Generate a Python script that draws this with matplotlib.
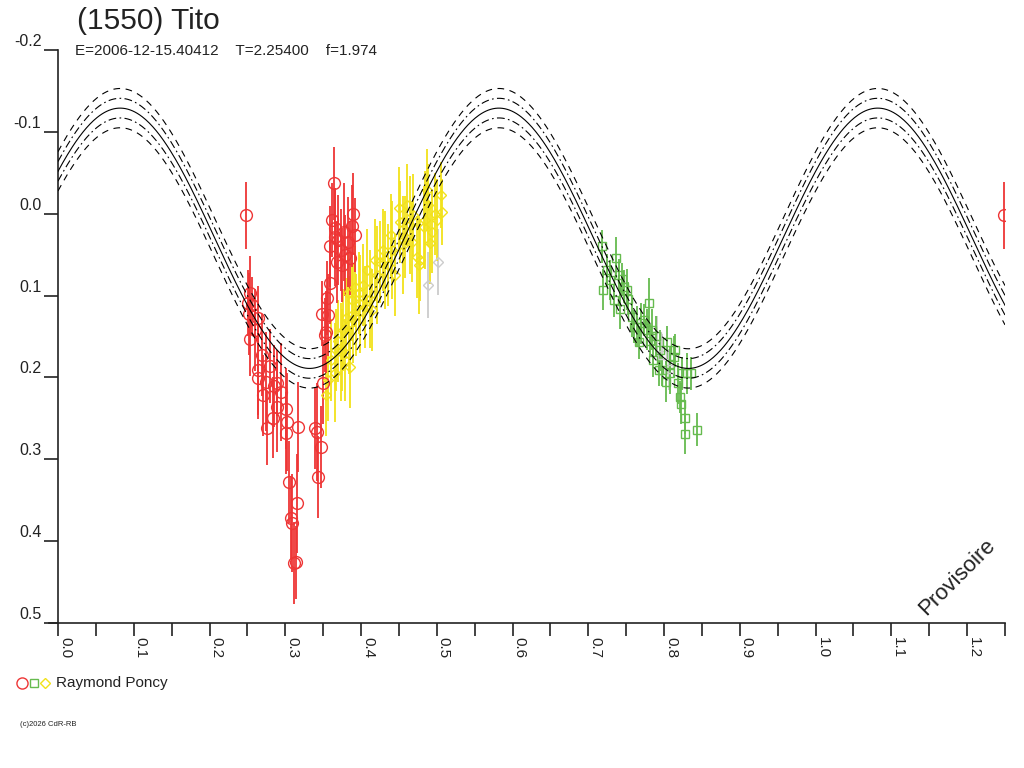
import numpy as np
import matplotlib
matplotlib.use("Agg")
import matplotlib.pyplot as plt
from matplotlib.transforms import ScaledTranslation

plt.rcParams['font.family'] = ['Liberation Sans', 'DejaVu Sans']

# ---- data (phase, relative magnitude, error) ----
red_phase = [0.2485, 0.254, 0.251, 0.252, 0.256, 0.254, 0.260, 0.264, 0.269, 0.264,
             0.264, 0.271, 0.275, 0.280, 0.285, 0.289, 0.289, 0.284, 0.276, 0.295,
             0.301, 0.302, 0.301, 0.317, 0.305, 0.315, 0.308, 0.309, 0.314, 0.312,
             0.339, 0.342, 0.347, 0.343, 0.350, 0.353, 0.354, 0.348, 0.359, 0.355,
             0.356, 0.359, 0.362, 0.364, 0.365, 0.366, 0.368, 0.370, 0.373, 0.375,
             0.378, 0.379, 0.383, 0.386, 0.388, 0.390, 0.392]
red_mag = [0.002, 0.097, 0.109, 0.122, 0.112, 0.153, 0.142, 0.128, 0.173, 0.191,
           0.201, 0.222, 0.205, 0.186, 0.210, 0.207, 0.236, 0.249, 0.262, 0.218,
           0.238, 0.254, 0.268, 0.261, 0.328, 0.354, 0.372, 0.378, 0.426, 0.427,
           0.262, 0.267, 0.285, 0.322, 0.207, 0.148, 0.144, 0.122, 0.085, 0.103,
           0.124, 0.040, 0.008, -0.037, 0.028, 0.018, 0.059, 0.032, 0.044, 0.063,
           0.022, 0.051, 0.035, 0.054, 0.015, 0.000, 0.026]
red_err = [0.041, 0.045, 0.040, 0.050, 0.035, 0.045, 0.050, 0.040, 0.050, 0.060,
           0.045, 0.050, 0.060, 0.045, 0.050, 0.040, 0.055, 0.050, 0.045, 0.060,
           0.050, 0.060, 0.050, 0.055, 0.050, 0.060, 0.050, 0.060, 0.045, 0.050,
           0.050, 0.060, 0.050, 0.050, 0.050, 0.045, 0.050, 0.040, 0.050, 0.045,
           0.050, 0.050, 0.045, 0.045, 0.060, 0.050, 0.050, 0.055, 0.050, 0.045,
           0.060, 0.050, 0.055, 0.045, 0.050, 0.050, 0.045]

green_phase = [0.718, 0.720, 0.725, 0.729, 0.734, 0.737, 0.740, 0.742, 0.745, 0.747,
               0.751, 0.753, 0.758, 0.760, 0.764, 0.767, 0.769, 0.773, 0.778, 0.780,
               0.782, 0.784, 0.786, 0.789, 0.793, 0.795, 0.797, 0.802, 0.804, 0.808,
               0.808, 0.813, 0.815, 0.819, 0.821, 0.822, 0.824, 0.827, 0.828, 0.830,
               0.835, 0.844]
green_mag = [0.040, 0.093, 0.069, 0.081, 0.106, 0.054, 0.075, 0.116, 0.080, 0.089,
             0.093, 0.104, 0.126, 0.138, 0.138, 0.157, 0.134, 0.130, 0.142, 0.109,
             0.155, 0.142, 0.179, 0.150, 0.191, 0.167, 0.191, 0.205, 0.157, 0.195,
             0.183, 0.175, 0.167, 0.207, 0.224, 0.232, 0.195, 0.269, 0.249, 0.195,
             0.195, 0.264]
green_err = [0.020, 0.025, 0.020, 0.025, 0.020, 0.025, 0.020, 0.025, 0.020, 0.020,
             0.025, 0.020, 0.025, 0.020, 0.025, 0.020, 0.025, 0.020, 0.025, 0.030,
             0.020, 0.025, 0.020, 0.025, 0.020, 0.025, 0.020, 0.025, 0.020, 0.025,
             0.020, 0.025, 0.020, 0.025, 0.020, 0.025, 0.020, 0.025, 0.020, 0.025,
             0.020, 0.020]

yellow_phase = [0.354, 0.357, 0.361, 0.365, 0.367, 0.370, 0.373, 0.375, 0.376, 0.379,
                0.380, 0.383, 0.384, 0.386, 0.388, 0.390, 0.392, 0.394, 0.397, 0.399,
                0.402, 0.405, 0.408, 0.412, 0.414, 0.419, 0.421, 0.425, 0.429, 0.432,
                0.436, 0.439, 0.441, 0.445, 0.450, 0.452, 0.456, 0.458, 0.461, 0.465,
                0.467, 0.469, 0.474, 0.476, 0.478, 0.483, 0.485, 0.487, 0.489, 0.491,
                0.494, 0.498, 0.500, 0.505, 0.507]
yellow_mag = [0.222, 0.203, 0.179, 0.194, 0.167, 0.155, 0.169, 0.167, 0.142, 0.179,
              0.128, 0.097, 0.136, 0.187, 0.106, 0.122, 0.089, 0.124, 0.097, 0.110,
              0.087, 0.114, 0.069, 0.104, 0.118, 0.057, 0.075, 0.059, 0.044, 0.057,
              0.063, 0.026, 0.044, 0.075, -0.007, 0.010, 0.038, 0.028, -0.011, 0.014,
              0.034, 0.002, 0.053, 0.063, 0.057, 0.016, 0.008, -0.029, -0.011, 0.036,
              0.022, 0.000, 0.008, -0.023, -0.002]
yellow_err = [0.050, 0.050, 0.050, 0.060, 0.050, 0.050, 0.060, 0.050, 0.050, 0.050,
              0.050, 0.050, 0.060, 0.050, 0.050, 0.060, 0.050, 0.050, 0.050, 0.060,
              0.050, 0.050, 0.050, 0.060, 0.050, 0.050, 0.060, 0.050, 0.050, 0.060,
              0.050, 0.050, 0.060, 0.050, 0.050, 0.050, 0.060, 0.050, 0.050, 0.060,
              0.050, 0.050, 0.050, 0.060, 0.050, 0.050, 0.060, 0.050, 0.050, 0.050,
              0.050, 0.050, 0.050, 0.040, 0.040]

grey_d_phase = [0.489, 0.501]
grey_d_mag = [0.087, 0.059]
grey_d_err = [0.040, 0.040]
grey_s_phase = [0.790, 0.797, 0.806]
grey_s_mag = [0.150, 0.172, 0.190]
grey_s_err = [0.025, 0.025, 0.025]

# fitted light curve (mean, amplitude, phase of maximum) and band offsets
fit_mean = 0.03
fit_amp = 0.159
fit_x0 = 0.082
band_offsets = [0.012, 0.024]

x_ticks = [round(0.1 * i, 1) for i in range(13)]
y_ticks = [-0.2, -0.1, 0.0, 0.1, 0.2, 0.3, 0.4, 0.5]

title = "(1550) Tito"
subtitle = "E=2006-12-15.40412    T=2.25400    f=1.974"
observer = "Raymond Poncy"

RED = '#ee3535'
GREEN = '#66bb4f'
YELLOW = '#f2e21a'
GREY = '#cccccc'
INK = '#222222'

fig = plt.figure(figsize=(10.24, 7.68), dpi=100)
ax = fig.add_axes([58 / 1024, 1 - 623 / 768, 947 / 1024, 573 / 768])
ax.set_xlim(0, 1.25)
ax.set_ylim(0.5, -0.2)


def plot_set(ph, mag, err, color, marker, ms):
    ph = np.array(ph)
    mag = np.array(mag)
    err = np.array(err)
    # points repeated one period later while still inside the window
    extra = ph + 1 <= 1.25
    ph = np.concatenate([ph, ph[extra] + 1])
    mag = np.concatenate([mag, mag[extra]])
    err = np.concatenate([err, err[extra]])
    ax.errorbar(ph, mag, yerr=err, fmt=marker, ms=ms, mfc='none', mec=color,
                mew=1.0, ecolor=color, elinewidth=1.3, capsize=0, zorder=3)


plot_set(grey_d_phase, grey_d_mag, grey_d_err, GREY, 'D', 5.5)
plot_set(grey_s_phase, grey_s_mag, grey_s_err, GREY, 's', 6)
plot_set(yellow_phase, yellow_mag, yellow_err, YELLOW, 'D', 5.5)
plot_set(green_phase, green_mag, green_err, GREEN, 's', 6)
plot_set(red_phase, red_mag, red_err, RED, 'o', 8.5)

xs = np.linspace(0, 1.25, 800)
model = fit_mean - fit_amp * np.cos(4 * np.pi * (xs - fit_x0))
ax.plot(xs, model, color='black', lw=0.8, zorder=4)
for sgn in (-1, 1):
    ax.plot(xs, model + sgn * band_offsets[0], color='black', lw=0.8,
            dashes=(7, 3, 1.5, 3), zorder=4)
    ax.plot(xs, model + sgn * band_offsets[1], color='black', lw=0.8,
            dashes=(6, 5), zorder=4)

# axes styling
for s in ('top', 'right'):
    ax.spines[s].set_visible(False)
ax.spines['left'].set_color(INK)
ax.spines['bottom'].set_color(INK)
ax.spines['bottom'].set_bounds(-0.0125, 1.25)
ax.spines['left'].set_linewidth(1.2)
ax.spines['bottom'].set_linewidth(1.2)

ax.set_xticks(x_ticks)
ax.set_xticks(np.arange(0.05, 1.26, 0.1), minor=True)
ax.set_xticklabels([f"{v:.1f}" for v in x_ticks], rotation=-90, ha='left',
                   va='top', fontsize=11, color=INK)
ax.tick_params(axis='x', which='both', direction='out', length=9, width=1.2,
               color=INK, pad=1)
ax.set_yticks(y_ticks)
ax.set_yticklabels([f"{v:.1f}" for v in y_ticks], fontsize=11.5, color=INK)
ax.tick_params(axis='y', direction='out', length=10, width=1.2, color=INK, pad=2)
for lbl in ax.get_yticklabels():
    lbl.set_va('bottom')
    lbl.set_transform(lbl.get_transform() + ScaledTranslation(0, 0.01, fig.dpi_scale_trans))

# texts
fig.text(77 / 1024, 1 - 7 / 768, title, fontsize=21.5, va='top', ha='left', color=INK)
fig.text(75 / 1024, 1 - 55 / 768, subtitle, fontsize=11, va='baseline', ha='left', color=INK)
fig.text(957 / 1024, 1 - 577 / 768, "Provisoire", fontsize=16, rotation=45,
         ha='center', va='center', color=INK)

# legend row
fig.lines.append(plt.Line2D([22 / 1024], [1 - 683 / 768], marker='o', ms=8, mfc='none',
                            mec=RED, mew=1.0, transform=fig.transFigure))
fig.lines.append(plt.Line2D([34 / 1024], [1 - 683 / 768], marker='s', ms=5.5, mfc='none',
                            mec=GREEN, mew=1.0, transform=fig.transFigure))
fig.lines.append(plt.Line2D([45 / 1024], [1 - 683 / 768], marker='D', ms=5, mfc='none',
                            mec=YELLOW, mew=1.0, transform=fig.transFigure))
fig.text(56 / 1024, 1 - 683 / 768, observer, fontsize=11, va='center', ha='left', color=INK)
fig.text(20 / 1024, 1 - 724 / 768, "(c)2026 CdR-RB", fontsize=5.5, va='center', ha='left', color=INK)

fig.savefig("out.png", dpi=100, facecolor='white')
